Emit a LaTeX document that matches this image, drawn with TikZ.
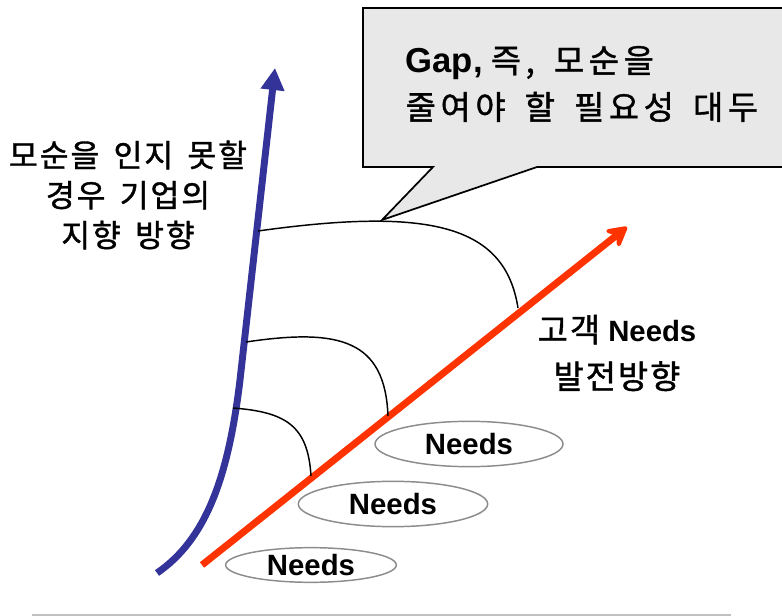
\documentclass[tikz,border=0pt]{standalone}
\usepackage{fontspec}
\setmainfont{Liberation Sans}
\newfontfamily\kr[Scale=1.12,LetterSpace=6,WordSpace=1.6,FakeBold=1.2]{Noto Sans CJK KR}
\newfontfamily\krwide[Scale=1.12,LetterSpace=14,WordSpace=1.6,FakeBold=1.2]{Noto Sans CJK KR}
\usetikzlibrary{arrows.meta,shapes.geometric}
\definecolor{trendBlue}{HTML}{333399}
\definecolor{needRed}{HTML}{FF3300}
\definecolor{boxGray}{HTML}{E8E8E8}
\definecolor{rimGray}{HTML}{8C8C8C}
\definecolor{ruleGray}{HTML}{C0C0C0}
\begin{document}
\begin{tikzpicture}[x=0.75pt, y=-0.75pt,
  needStyle/.style={ellipse, draw=rimGray, line width=1.1pt, fill=white, inner sep=0pt, font=\bfseries\fontsize{22}{26}\selectfont},
  linkStyle/.style={black, line width=1.1pt},
  labelStyle/.style={align=center, font=\fontsize{21}{30}\selectfont}]
  \useasboundingbox (0,0) rectangle (782,616);

  % callout
  \coordinate (tip) at (382,220);
  \draw[fill=boxGray, line width=1.3pt] (363,8) -- (786,8) -- (786,167) -- (537,167) -- (tip) -- (433,167) -- (363,167) -- cycle;
  \node[anchor=west, align=left, font=\fontsize{22}{35}\selectfont] (gapText) at (401,84)
    {{\fontsize{26}{35}\selectfont\bfseries Gap,} {\krwide 즉, 모순을}\\{\krwide 줄여야 할 필요성 대두}};

  % two trends
  \coordinate (blueStart) at (157,573);
  \coordinate (blueTop) at (275,68);
  \coordinate (redStart) at (202,565);
  \coordinate (redTop) at (627,227);
  \draw[trendBlue, line width=5.2pt, -{Triangle[length=16.5pt,width=17pt]}]
    (blueStart) .. controls (205,540) and (228,480) .. (240,380) -- (blueTop);
  \draw[needRed, line width=5.2pt, -{Stealth[round,length=19pt,width=21pt,inset=7pt]}]
    (redStart) -- (redTop);

  % gaps
  \coordinate (b1) at (258,231);
  \coordinate (b2) at (246,342);
  \coordinate (b3) at (233,408);
  \coordinate (r1) at (518,308);
  \coordinate (r2) at (388,416);
  \coordinate (r3) at (311,476);
  \draw[linkStyle] (b1) .. controls (430,207) and (505,225) .. (r1);
  \draw[linkStyle] (b2) .. controls (340,328) and (385,340) .. (r2);
  \draw[linkStyle] (b3) .. controls (285,412) and (308,425) .. (r3);

  % needs
  \node[needStyle, minimum width=141pt, minimum height=34pt] (need1) at (469,444) {Needs};
  \node[needStyle, minimum width=142pt, minimum height=34pt] (need2) at (393,504) {Needs};
  \node[needStyle, minimum width=128pt, minimum height=26pt] (need3) at (311,565) {Needs};

  % labels
  \node[labelStyle] (blueLabel) at (128,195) {{\kr 모순을 인지 못할}\\{\kr 경우 기업의}\\{\kr 지향 방향}};
  \node[labelStyle, font=\fontsize{22}{35}\selectfont] (redLabel) at (617,353) {{\kr 고객} {\bfseries Needs}\\{\kr 발전방향}};

  \draw[ruleGray, line width=1.4pt] (32,615) -- (731,615);
\end{tikzpicture}
\end{document}
